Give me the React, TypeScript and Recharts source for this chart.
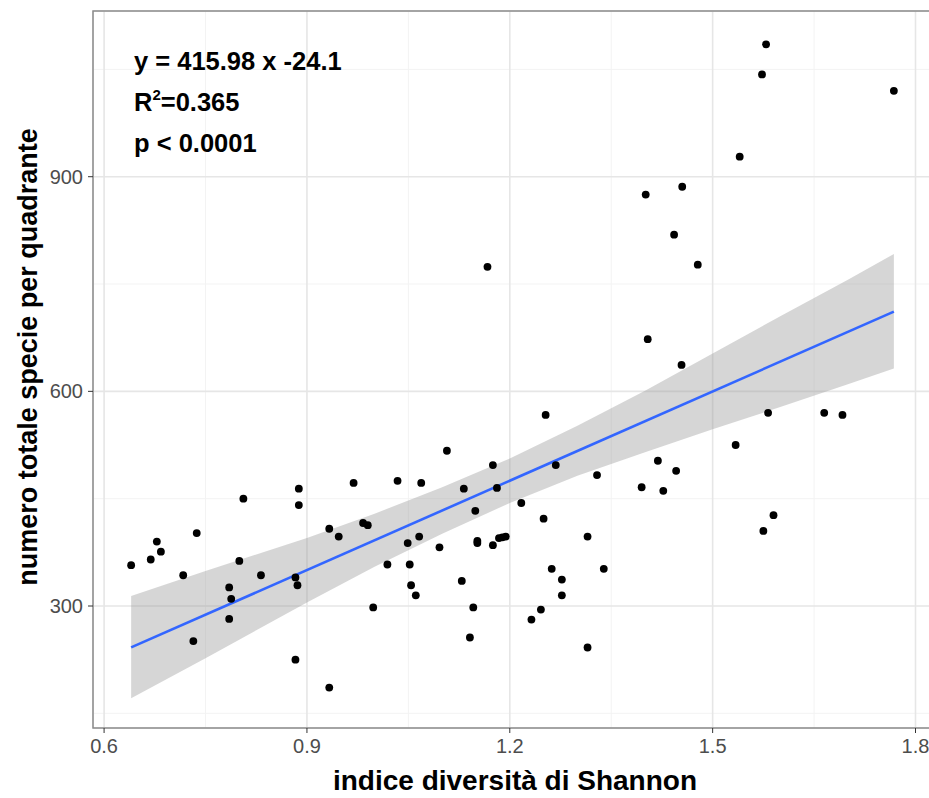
import React from 'react'
import { ComposedChart, Scatter, Line, Area, XAxis, YAxis, CartesianGrid, ReferenceArea, Customized } from 'recharts'

// indice di Shannon (x) and numero totale specie (y) per quadrante
const shannon = [
  0.640, 0.669, 0.678, 0.684, 0.717, 0.732, 0.737, 0.785, 0.788, 0.785,
  0.800, 0.806, 0.832, 0.883, 0.886, 0.888, 0.888, 0.883, 0.933, 0.947,
  0.933, 0.969, 0.983, 0.990, 0.998, 1.019, 1.034, 1.049, 1.052, 1.054,
  1.061, 1.066, 1.069, 1.096, 1.107, 1.129, 1.132, 1.141, 1.146, 1.149,
  1.152, 1.152, 1.167, 1.175, 1.175, 1.181, 1.184, 1.189, 1.194, 1.217,
  1.232, 1.246, 1.250, 1.253, 1.262, 1.268, 1.277, 1.277, 1.315, 1.315,
  1.329, 1.339, 1.395, 1.401, 1.404, 1.419, 1.427, 1.443, 1.446, 1.454,
  1.455, 1.478, 1.534, 1.540, 1.573, 1.575, 1.579, 1.582, 1.590, 1.665,
  1.692, 1.768,
]
const species = [
  357, 365, 390, 376, 343, 251, 402, 326, 310, 282,
  363, 450, 343, 340, 329, 464, 441, 225, 408, 397,
  186, 472, 416, 413, 298, 358, 475, 388, 358, 329,
  315, 397, 472, 382, 517, 335, 464, 256, 298, 433,
  391, 388, 774, 497, 385, 465, 395, 396, 397, 444,
  281, 295, 422, 567, 352, 497, 337, 315, 397, 242,
  483, 352, 466, 875, 673, 503, 461, 819, 489, 637,
  886, 777, 525, 928, 1043, 405, 1085, 570, 427, 570,
  567, 1020,
]

// confidence ribbon
const bandX = [0.64, 0.75, 0.9, 1.0, 1.1, 1.2, 1.3, 1.4, 1.5, 1.6, 1.7, 1.768]
const bandLow = [171, 227, 305, 355, 401, 444, 482, 515, 547, 578, 610, 632]
const bandHigh = [314, 349, 395, 429, 466, 506, 552, 601, 653, 705, 756, 792]

// fitted line y = 415.98 x - 24.1
const fitX = [0.64, 1.768]
const fitY = [242.1, 711.4]

const xTicks = [0.6, 0.9, 1.2, 1.5, 1.8]
const xMinor = [0.75, 1.05, 1.35, 1.65]
const yTicks = [300, 600, 900]
const yMinor = [150, 450, 750, 1050]

const xDomain = [0.5836, 1.8244]
const yDomain = [129.5, 1131.6]

const points = shannon.map((x, i) => ({ x, y: species[i] }))
const band = bandX.map((x, i) => ({ x, range: [bandLow[i], bandHigh[i]] }))
const fit = fitX.map((x, i) => ({ x, y: fitY[i] }))

const sans = 'Liberation Sans, Arial, sans-serif'

const Dot = (props: any) => <circle cx={props.cx} cy={props.cy} r={3.9} fill="#000" />

const Annotation = () => (
  <g fontFamily={sans} fontWeight="bold" fontSize={25.5} fill="#000">
    <text x={134} y={69.5}>y = 415.98 x -24.1</text>
    <text x={134} y={111}>
      R<tspan fontSize={15} dy={-11}>2</tspan><tspan dy={11}>=0.365</tspan>
    </text>
    <text x={134} y={151.5}>p &lt; 0.0001</text>
    <text x={515} y={790} textAnchor="middle" fontSize={28}>indice diversità di Shannon</text>
    <text x={0} y={0} textAnchor="middle" fontSize={27} transform="translate(37,357) rotate(-90)">
      numero totale specie per quadrante
    </text>
  </g>
)

export default function App() {
  const tick = { fill: '#4d4d4d', fontSize: 20, fontFamily: sans }
  return (
    <div style={{ position: 'absolute', left: 0, top: 0, width: 929, height: 798, overflow: 'hidden', background: '#fff' }}>
      <ComposedChart width={940} height={798} margin={{ top: 11, right: 8, bottom: 0, left: 0 }}>
        <CartesianGrid stroke="#f3f3f3" strokeWidth={1} horizontalValues={yMinor} verticalValues={xMinor} />
        <CartesianGrid stroke="#e6e6e6" strokeWidth={1.6} />
        <XAxis
          type="number"
          dataKey="x"
          domain={xDomain}
          ticks={xTicks}
          allowDataOverflow
          height={70}
          axisLine={false}
          tickLine={{ stroke: '#333' }}
          tickSize={5}
          tickMargin={6}
          tick={tick}
          tickFormatter={(v: number) => v.toFixed(1)}
        />
        <YAxis
          type="number"
          dataKey="y"
          domain={yDomain}
          ticks={yTicks}
          allowDataOverflow
          width={93}
          axisLine={false}
          tickLine={{ stroke: '#333' }}
          tickSize={5}
          tickMargin={5}
          tick={tick}
        />
        <Scatter data={points} dataKey="y" shape={Dot} isAnimationActive={false} />
        <Area data={band} dataKey="range" type="linear" stroke="none" fill="#999999" fillOpacity={0.4} isAnimationActive={false} />
        <Line data={fit} dataKey="y" type="linear" stroke="#3366ff" strokeWidth={2.6} dot={false} isAnimationActive={false} />
        <ReferenceArea x1={xDomain[0]} x2={xDomain[1]} y1={yDomain[0]} y2={yDomain[1]} fill="none" stroke="#8c8c8c" strokeWidth={1.5} />
        <Customized component={Annotation} />
      </ComposedChart>
    </div>
  )
}
